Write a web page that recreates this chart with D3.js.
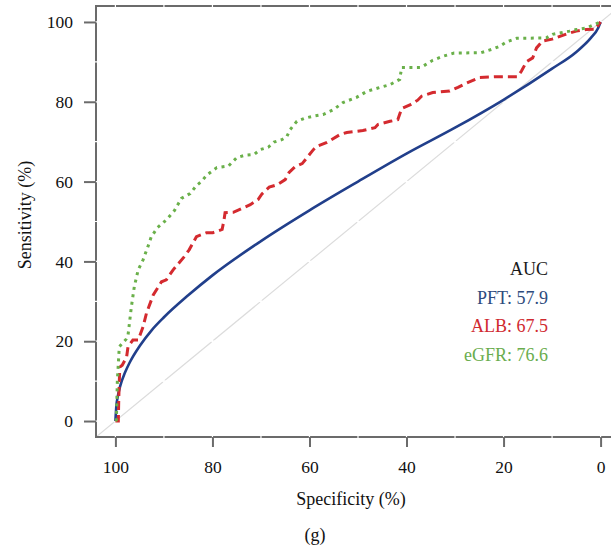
<!DOCTYPE html>
<html>
<head>
<meta charset="utf-8">
<script src="https://cdn.jsdelivr.net/npm/d3@7"></script>
<style>
  body { margin: 0; background: #fff; }
  text { font-family: "Liberation Serif", "DejaVu Serif", serif; }
</style>
</head>
<body>
<div id="chart"></div>
<script>
// ROC points as [specificity, sensitivity]
var pftPoints = [[100,0],[99.8,3.8],[99.5,6.2],[99,8.8],[98,12.2],[97,14.8],[95,18.8],[92.5,22.8],[90,26],
    [85,31.5],[80,36.5],[70,45.1],[60,52.8],[50,60],[40,67],[30,73.5],[20,80.5],[10,88.3],[5,92.5],
    [2,96],[0.5,98.5],[0,100]];

var albPoints = [[100,0],[99.4,0],[99.3,6],[99.1,13.5],[98.6,14],[97.7,16],[97.4,18.6],[96.4,20.3],[95.3,20.3],
    [94.3,23.6],[93.6,27],[92.2,31.6],[90.5,34.9],[89.5,35.4],[88.1,37.9],[85.8,41.2],[84.8,42.9],[83.3,46.2],
    [81.2,47.2],[79.9,47.2],[78,48],[77.6,50.5],[77.4,52.2],[75.7,52.3],[73.7,53.4],[72.2,54.2],[70.6,55.5],
    [69.8,56.9],[68.3,58.6],[66.7,59.2],[65,60.5],[64.2,62.3],[63,63.7],[61.5,64.5],[59.2,68],[58.5,68.8],
    [56.4,69.8],[53.7,71.8],[52.3,72.3],[49,72.8],[46.5,73.5],[45.9,74.3],[43.4,75.1],[41.8,75.5],[41,78.3],
    [39.3,79.2],[37.7,80.4],[36.9,81.4],[34.6,82.3],[31.1,82.7],[29.4,83.6],[27.6,84.7],[24.9,86.1],[21.5,86.3],
    [17.1,86.3],[16.3,87.7],[15.3,90],[14,91],[13.2,93.5],[12,95.2],[10,95.7],[7,97],[5,97.7],[3,98.1],
    [1,98.2],[0.4,99.4],[0,100]];

var egfrPoints = [[100,0],[99.8,0.3],[99.6,10],[99.2,18.6],[97.8,20.5],[97.4,21.5],[97.1,24.6],[96.7,28.7],
    [96.1,33.7],[95.3,37.9],[94.3,40.4],[93.3,43.7],[92.6,46.2],[91.3,48.5],[89.5,50.4],[87.8,52.8],[86.4,55.8],
    [84.6,57],[83.3,59],[82.3,60],[81.1,61.7],[79.1,63.5],[76.7,63.9],[75,66],[73.3,66.6],[71.4,66.8],[70.2,68],
    [68.5,68.6],[67.3,69.9],[65.7,70.5],[64.7,71.2],[64,73],[62.6,75.1],[60.9,75.9],[59.2,76.4],[57.2,76.8],
    [55.1,78],[53.1,79.8],[50.3,81.1],[48.2,82.6],[45.5,83.6],[43.4,84.3],[41.4,85.6],[41,88.6],[37.2,88.6],
    [36.6,88.9],[34.6,90.4],[32.5,91.4],[30.2,92.2],[24.6,92.3],[22.5,93.1],[20.8,93.9],[19.4,95],[17.3,95.9],
    [11.2,96],[9.9,96.9],[6.4,97.7],[5,98.1],[2.9,98.5],[0.6,99.7],[0,100]];

var tickValues = [0, 20, 40, 60, 80, 100];
var legendTitle = "AUC";
var legendLabels = ["PFT: 57.9", "ALB: 67.5", "eGFR: 76.6"];

var colors = { pft: "#213f8b", alb: "#d42a2f", egfr: "#6ab04a" };
var textColors = ["#2e4b7d", "#d02a30", "#6aad4e"];

var margin = { top: 6, left: 96 };
var plotW = 524, plotH = 431;

var svg = d3.select("#chart").append("svg")
    .attr("width", 611)
    .attr("height", 550);

var x = d3.scaleLinear().domain([104, -4]).range([margin.left, margin.left + plotW]);
var y = d3.scaleLinear().domain([-4, 104]).range([margin.top + plotH, margin.top]);

svg.append("defs").append("clipPath").attr("id", "clip")
    .append("rect")
    .attr("x", margin.left).attr("y", margin.top)
    .attr("width", plotW).attr("height", plotH);

// chance diagonal
svg.append("line")
    .attr("clip-path", "url(#clip)")
    .attr("x1", x(104)).attr("y1", y(-4))
    .attr("x2", x(-4)).attr("y2", y(104))
    .attr("stroke", "#dcdcdc")
    .attr("stroke-width", 1.2);

// frame
svg.append("rect")
    .attr("x", margin.left).attr("y", margin.top)
    .attr("width", plotW).attr("height", plotH)
    .attr("fill", "none")
    .attr("stroke", "#6b6b6b")
    .attr("stroke-width", 2);

// white grid lines that break the frame
var grid = d3.range(0, 101, 10);
svg.append("g").selectAll("line.gx").data(grid).enter().append("line")
    .attr("x1", function(d) { return x(d); }).attr("x2", function(d) { return x(d); })
    .attr("y1", margin.top - 2).attr("y2", margin.top + plotH + 2)
    .attr("stroke", "#fff").attr("stroke-width", 1.2);
svg.append("g").selectAll("line.gy").data(grid).enter().append("line")
    .attr("y1", function(d) { return y(d); }).attr("y2", function(d) { return y(d); })
    .attr("x1", margin.left - 2).attr("x2", margin.left + plotW + 2)
    .attr("stroke", "#fff").attr("stroke-width", 1.2);

// axes
var xAxis = d3.axisBottom(x).tickValues(tickValues).tickSize(10).tickPadding(14);
var yAxis = d3.axisLeft(y).tickValues(tickValues).tickSize(12).tickPadding(11);

var gx = svg.append("g")
    .attr("transform", "translate(0," + (margin.top + plotH) + ")")
    .call(xAxis);
var gy = svg.append("g")
    .attr("transform", "translate(" + margin.left + ",0)")
    .call(yAxis);

[gx, gy].forEach(function(g) {
    g.select(".domain").remove();
    g.selectAll(".tick line").attr("stroke", "#6b6b6b").attr("stroke-width", 2);
    g.selectAll(".tick text")
        .attr("fill", "#111")
        .style("font-family", "'Liberation Serif', serif")
        .style("font-size", "17.5px");
});

// curves
var line = d3.line()
    .x(function(d) { return x(d[0]); })
    .y(function(d) { return y(d[1]); });

svg.append("path")
    .datum(pftPoints)
    .attr("d", line.curve(d3.curveMonotoneX))
    .attr("fill", "none")
    .attr("stroke", colors.pft)
    .attr("stroke-width", 2.6);

svg.append("path")
    .datum(albPoints)
    .attr("d", line.curve(d3.curveLinear))
    .attr("fill", "none")
    .attr("stroke", colors.alb)
    .attr("stroke-width", 3)
    .attr("stroke-dasharray", "9,5");

svg.append("path")
    .datum(egfrPoints)
    .attr("d", line.curve(d3.curveLinear))
    .attr("fill", "none")
    .attr("stroke", colors.egfr)
    .attr("stroke-width", 3)
    .attr("stroke-dasharray", "3,4.5");

// legend
var legend = svg.append("g")
    .attr("text-anchor", "end")
    .style("font-size", "18px");
legend.append("text")
    .attr("x", 548).attr("y", 275)
    .attr("fill", "#1a1a1a")
    .text(legendTitle);
legend.selectAll("text.item").data(legendLabels).enter().append("text")
    .attr("class", "item")
    .attr("x", 548)
    .attr("y", function(d, i) { return 304 + i * 28.3; })
    .attr("fill", function(d, i) { return textColors[i]; })
    .text(function(d) { return d; });

// axis titles
svg.append("text")
    .attr("x", 351).attr("y", 505)
    .attr("text-anchor", "middle")
    .attr("fill", "#111")
    .style("font-size", "18px")
    .text("Specificity (%)");

svg.append("text")
    .attr("transform", "translate(31,215) rotate(-90)")
    .attr("text-anchor", "middle")
    .attr("fill", "#111")
    .style("font-size", "18px")
    .text("Sensitivity (%)");

svg.append("text")
    .attr("x", 315).attr("y", 541)
    .attr("text-anchor", "middle")
    .attr("fill", "#111")
    .style("font-size", "18px")
    .text("(g)");
</script>
</body>
</html>
